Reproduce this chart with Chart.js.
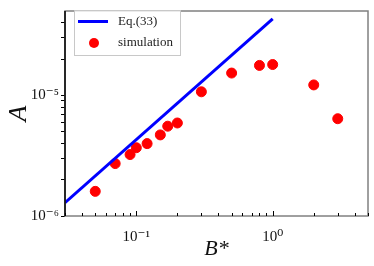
<!DOCTYPE html>
<html>
<head>
<meta charset="utf-8">
<script src="https://cdn.jsdelivr.net/npm/chart.js@4/dist/chart.umd.min.js"></script>
<style>
  html, body { margin: 0; padding: 0; background: #fff; }
  #wrap { width: 374px; height: 266px; }
</style>
</head>
<body>
<div id="wrap"><canvas id="chart"></canvas></div>
<script>
// simulation values
const simB = [0.05, 0.07, 0.09, 0.1, 0.12, 0.15, 0.17, 0.2, 0.3, 0.5, 0.8, 1.0, 2.0, 3.0];
const simA = [1.6e-6, 2.72e-6, 3.23e-6, 3.68e-6, 3.98e-6, 4.7e-6, 5.55e-6, 5.9e-6, 1.07e-5, 1.53e-5, 1.77e-5, 1.8e-5, 1.22e-5, 6.4e-6];
// Eq.(33) end points
const eqB = [0.03, 1.0];
const eqA = [1.29e-6, 4.3e-5];

const xTicks = [0.03, 0.04, 0.05, 0.06, 0.07, 0.08, 0.09, 0.1, 0.2, 0.3, 0.4, 0.5, 0.6, 0.7, 0.8, 0.9, 1, 2, 3, 4, 5];
const yTicks = [1e-6, 2e-6, 3e-6, 4e-6, 5e-6, 6e-6, 7e-6, 8e-6, 9e-6, 1e-5, 2e-5, 3e-5, 4e-5];
const majorLabels = { "0.1": "10⁻¹", "1": "10⁰", "0.000001": "10⁻⁶", "0.00001": "10⁻⁵" };

const serif = "'Liberation Serif', 'DejaVu Serif', serif";

const framePlugin = {
  id: "frame",
  afterDraw(chart) {
    const ctx = chart.ctx;
    const a = chart.chartArea;
    const x = chart.scales.x;
    ctx.save();
    ctx.strokeStyle = "#808080";
    ctx.lineWidth = 1.5;
    ctx.strokeRect(a.left, a.top, a.right - a.left, a.bottom - a.top);
    ctx.strokeStyle = "#000";
    ctx.beginPath();
    ctx.moveTo(a.left, a.top);
    ctx.lineTo(a.left, a.bottom);
    ctx.stroke();
    // inward ticks on the x axis
    ctx.lineWidth = 1;
    xTicks.forEach(function (v) {
      const px = Math.round(x.getPixelForValue(v)) + 0.5;
      const major = majorLabels[String(v)] !== undefined;
      ctx.beginPath();
      ctx.moveTo(px, a.bottom);
      ctx.lineTo(px, a.bottom - (major ? 5 : 3));
      ctx.stroke();
    });
    ctx.restore();

    // legend inside the plot
    const lx = 74, ly = 10, lw = 106, lh = 45;
    ctx.save();
    ctx.fillStyle = "rgba(255,255,255,0.8)";
    ctx.fillRect(lx, ly, lw, lh);
    ctx.strokeStyle = "#c8c8c8";
    ctx.lineWidth = 1;
    ctx.strokeRect(lx + 0.5, ly + 0.5, lw, lh);
    const ds = chart.data.datasets;
    ctx.strokeStyle = ds[0].borderColor;
    ctx.lineWidth = 3;
    ctx.beginPath();
    ctx.moveTo(78, 21.5);
    ctx.lineTo(108, 21.5);
    ctx.stroke();
    ctx.fillStyle = ds[1].backgroundColor;
    ctx.beginPath();
    ctx.arc(94, 43, 5, 0, Math.PI * 2);
    ctx.fill();
    ctx.fillStyle = "#222";
    ctx.font = "13px " + serif;
    ctx.textBaseline = "middle";
    ctx.fillText(ds[0].label, 118, 22);
    ctx.fillText(ds[1].label, 118, 43);
    ctx.restore();
  }
};

const ctx = document.getElementById("chart").getContext("2d");
new Chart(ctx, {
  type: "scatter",
  data: {
    datasets: [
      {
        label: "Eq.(33)",
        data: eqB.map((b, i) => ({ x: b, y: eqA[i] })),
        showLine: true,
        borderColor: "#0000ff",
        borderWidth: 3,
        pointRadius: 0,
      },
      {
        label: "simulation",
        data: simB.map((b, i) => ({ x: b, y: simA[i] })),
        backgroundColor: "#ff0000",
        borderColor: "#ff0000",
        pointRadius: 5,
        pointHoverRadius: 5,
      },
    ],
  },
  options: {
    responsive: true,
    maintainAspectRatio: false,
    animation: false,
    layout: { padding: { top: 4, right: 4, left: 0, bottom: 0 } },
    plugins: {
      legend: { display: false },
      tooltip: { enabled: false },
    },
    scales: {
      x: {
        type: "logarithmic",
        min: 0.03,
        max: 5,
        afterFit: (s) => { s.height = 50; },
        afterBuildTicks: (s) => { s.ticks = xTicks.map((v) => ({ value: v })); },
        border: { display: false },
        grid: { display: false },
        ticks: {
          autoSkip: false,
          maxRotation: 0,
          padding: 4,
          color: "#111",
          font: { family: serif, size: 15 },
          callback: (v) => majorLabels[String(v)] || "",
        },
        title: {
          display: true,
          text: "B*",
          color: "#111",
          padding: { top: 0 },
          font: { family: serif, size: 22, style: "italic" },
        },
      },
      y: {
        type: "logarithmic",
        min: 1e-6,
        max: 5e-5,
        afterFit: (s) => { s.width = 65; },
        afterBuildTicks: (s) => { s.ticks = yTicks.map((v) => ({ value: v })); },
        border: { display: false },
        grid: { drawOnChartArea: false, drawTicks: true, tickLength: 4, color: "#000" },
        ticks: {
          autoSkip: false,
          padding: 2,
          color: "#111",
          font: { family: serif, size: 15 },
          callback: (v) => majorLabels[String(v)] || "",
        },
        title: {
          display: true,
          text: "A",
          color: "#111",
          padding: { bottom: 0 },
          font: { family: serif, size: 26, style: "italic" },
        },
      },
    },
  },
  plugins: [framePlugin],
});
</script>
</body>
</html>
